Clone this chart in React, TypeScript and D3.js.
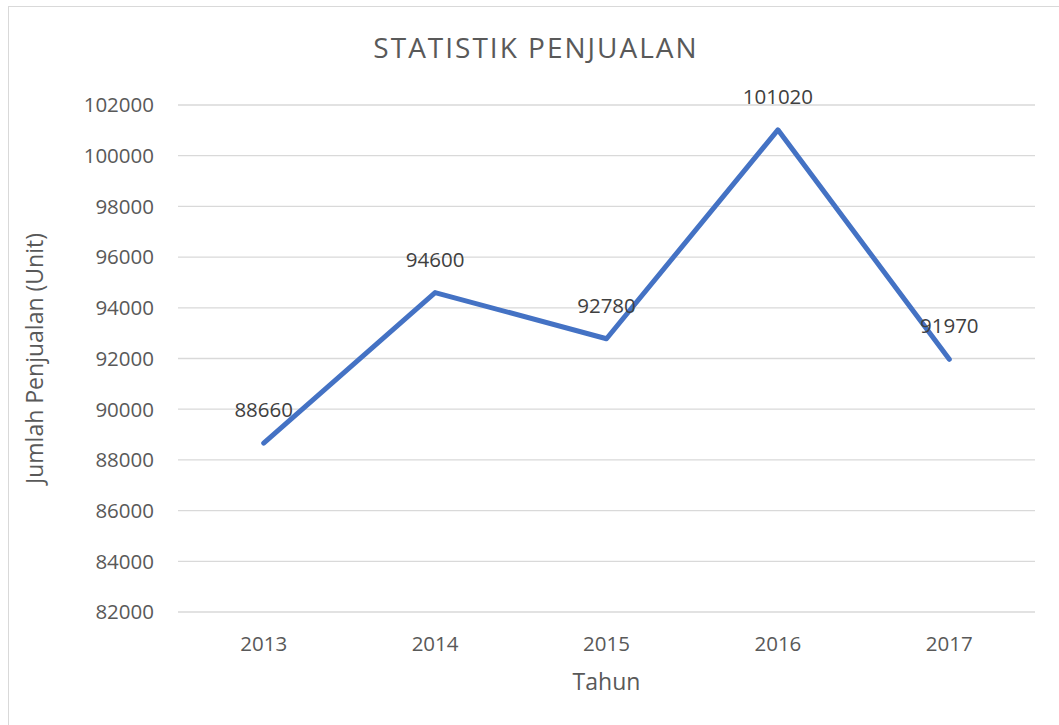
import { useEffect, useRef } from 'react';
import * as d3 from 'd3';

const years = ['2013', '2014', '2015', '2016', '2017'];
const sales = [88660, 94600, 92780, 101020, 91970];
const yTicks = [82000, 84000, 86000, 88000, 90000, 92000, 94000, 96000, 98000, 100000, 102000];

const FONT = '"Open Sans", "Liberation Sans", sans-serif';

export default function App() {
  const svgRef = useRef<SVGSVGElement>(null);
  const width = 1059;
  const height = 725;

  useEffect(() => {
    if (!svgRef.current) return;
    const svg = d3.select(svgRef.current);
    svg.selectAll('*').remove();

    const margin = { top: 105, right: 24, bottom: 113, left: 178 };
    const innerWidth = width - margin.left - margin.right;
    const innerHeight = height - margin.top - margin.bottom;

    // chart frame (right/bottom cut off in the original)
    svg.append('rect')
      .attr('x', 8.5).attr('y', 6.5)
      .attr('width', 1060).attr('height', 730)
      .attr('fill', '#fff')
      .attr('stroke', '#d9d9d9');

    const g = svg.append('g').attr('transform', `translate(${margin.left},${margin.top})`);

    const xScale = d3.scaleBand().domain(years).range([0, innerWidth]);
    const yScale = d3.scaleLinear().domain([82000, 102000]).range([innerHeight, 0]);

    // gridlines
    g.selectAll('.grid')
      .data(yTicks)
      .enter()
      .append('line')
      .attr('x1', 0).attr('x2', innerWidth)
      .attr('y1', d => yScale(d)).attr('y2', d => yScale(d))
      .attr('stroke', '#d9d9d9')
      .attr('stroke-width', 1.3);

    // y tick labels
    g.selectAll('.ylab')
      .data(yTicks)
      .enter()
      .append('text')
      .attr('x', -24)
      .attr('y', d => yScale(d))
      .attr('dy', '0.36em')
      .attr('text-anchor', 'end')
      .attr('fill', '#595959')
      .style('font-family', FONT)
      .style('font-size', '20.5px')
      .text(d => d);

    // x tick labels
    g.selectAll('.xlab')
      .data(years)
      .enter()
      .append('text')
      .attr('x', d => (xScale(d) || 0) + xScale.bandwidth() / 2)
      .attr('y', innerHeight + 39)
      .attr('text-anchor', 'middle')
      .attr('fill', '#595959')
      .style('font-family', FONT)
      .style('font-size', '20.5px')
      .text(d => d);

    const line = d3.line<number>()
      .x((_, i) => (xScale(years[i]) || 0) + xScale.bandwidth() / 2)
      .y(d => yScale(d));

    g.append('path')
      .datum(sales)
      .attr('d', line)
      .attr('fill', 'none')
      .attr('stroke', '#4472c4')
      .attr('stroke-width', 5)
      .attr('stroke-linejoin', 'round')
      .attr('stroke-linecap', 'round');

    // data labels
    g.selectAll('.dlab')
      .data(sales)
      .enter()
      .append('text')
      .attr('x', (_, i) => (xScale(years[i]) || 0) + xScale.bandwidth() / 2)
      .attr('y', d => yScale(d) - 26)
      .attr('text-anchor', 'middle')
      .attr('fill', '#404040')
      .style('font-family', FONT)
      .style('font-size', '20.5px')
      .text(d => d);

    // title
    svg.append('text')
      .attr('x', 536)
      .attr('y', 58)
      .attr('text-anchor', 'middle')
      .attr('fill', '#595959')
      .style('font-family', FONT)
      .style('font-size', '28px')
      .style('letter-spacing', '2px')
      .text('STATISTIK PENJUALAN');

    // axis titles
    svg.append('text')
      .attr('x', margin.left + innerWidth / 2)
      .attr('y', 690)
      .attr('text-anchor', 'middle')
      .attr('fill', '#595959')
      .style('font-family', FONT)
      .style('font-size', '23px')
      .text('Tahun');

    svg.append('text')
      .attr('transform', `translate(43,${margin.top + innerHeight / 2}) rotate(-90)`)
      .attr('text-anchor', 'middle')
      .attr('fill', '#595959')
      .style('font-family', FONT)
      .style('font-size', '23px')
      .text('Jumlah Penjualan (Unit)');
  }, []);

  return (
    <svg
      ref={svgRef}
      width={width}
      height={height}
      style={{ position: 'absolute', left: 0, top: 0, background: '#fff' }}
    />
  );
}
